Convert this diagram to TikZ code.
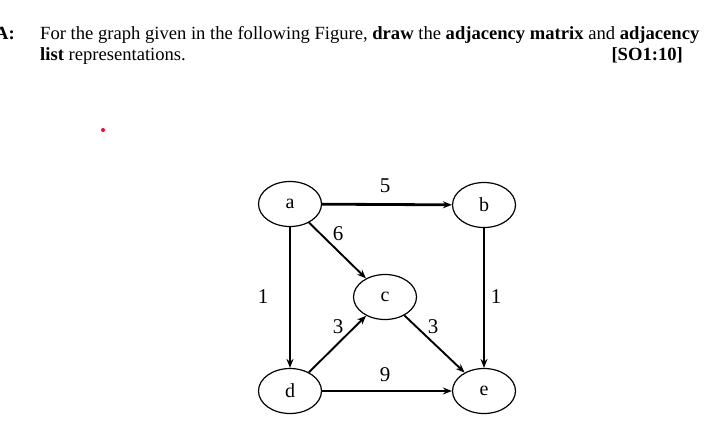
\documentclass[tikz,border=0pt]{standalone}
\usepackage{fontspec}
\setmainfont{Liberation Serif}
\usetikzlibrary{shapes.geometric,arrows.meta}
\begin{document}
\begin{tikzpicture}[x=1pt,y=-1pt,
  vtx/.style={draw,ellipse,minimum width=63pt,minimum height=45pt,inner sep=0pt,line width=1.2pt,font=\fontsize{20}{20}\selectfont},
  edg/.style={line width=1.9pt,-{Stealth[length=9pt,width=7pt]}},
  thk/.style={line width=2.8pt,-{Stealth[length=9pt,width=7pt]}},
  wt/.style={font=\fontsize{21}{21}\selectfont},
  txt/.style={font=\fontsize{18.6}{18.6}\selectfont,inner sep=0pt,anchor=base west}]
\useasboundingbox (0,0) rectangle (714,432);
\node[txt] (A) at (-5,39) {\textbf{A:}};
\node[txt] (l1) at (40,39) {For the graph given in the following Figure, \textbf{draw} the \textbf{adjacency matrix} and \textbf{adjacency}};
\node[txt] (l2) at (40,60) {\textbf{list} representations.};
\node[txt,anchor=base east] (so) at (683,60) {\textbf{[SO1:10]}};
\fill[red!80!magenta] (103,130) circle (2);
\node[vtx] (a) at (290,204) {a};
\node[vtx] (b) at (484,205) {b};
\node[vtx] (c) at (385,297) {c};
\node[vtx] (d) at (290,391) {d};
\node[vtx] (e) at (484,391) {e};
\draw[thk] (a) -- (b);
\draw[edg] (a) -- (c);
\draw[edg] (a) -- (d);
\draw[thk] (b) -- (e);
\draw[edg] (d) -- (c);
\draw[edg] (c) -- (e);
\draw[thk] (d) -- (e);
\node[wt] (w1) at (385,186) {5};
\node[wt] (w2) at (338,234) {6};
\node[wt] (w3) at (263,297) {1};
\node[wt] (w4) at (496,297) {1};
\node[wt] (w5) at (338,327) {3};
\node[wt] (w6) at (433,327) {3};
\node[wt] (w7) at (385,375) {9};
\end{tikzpicture}
\end{document}
